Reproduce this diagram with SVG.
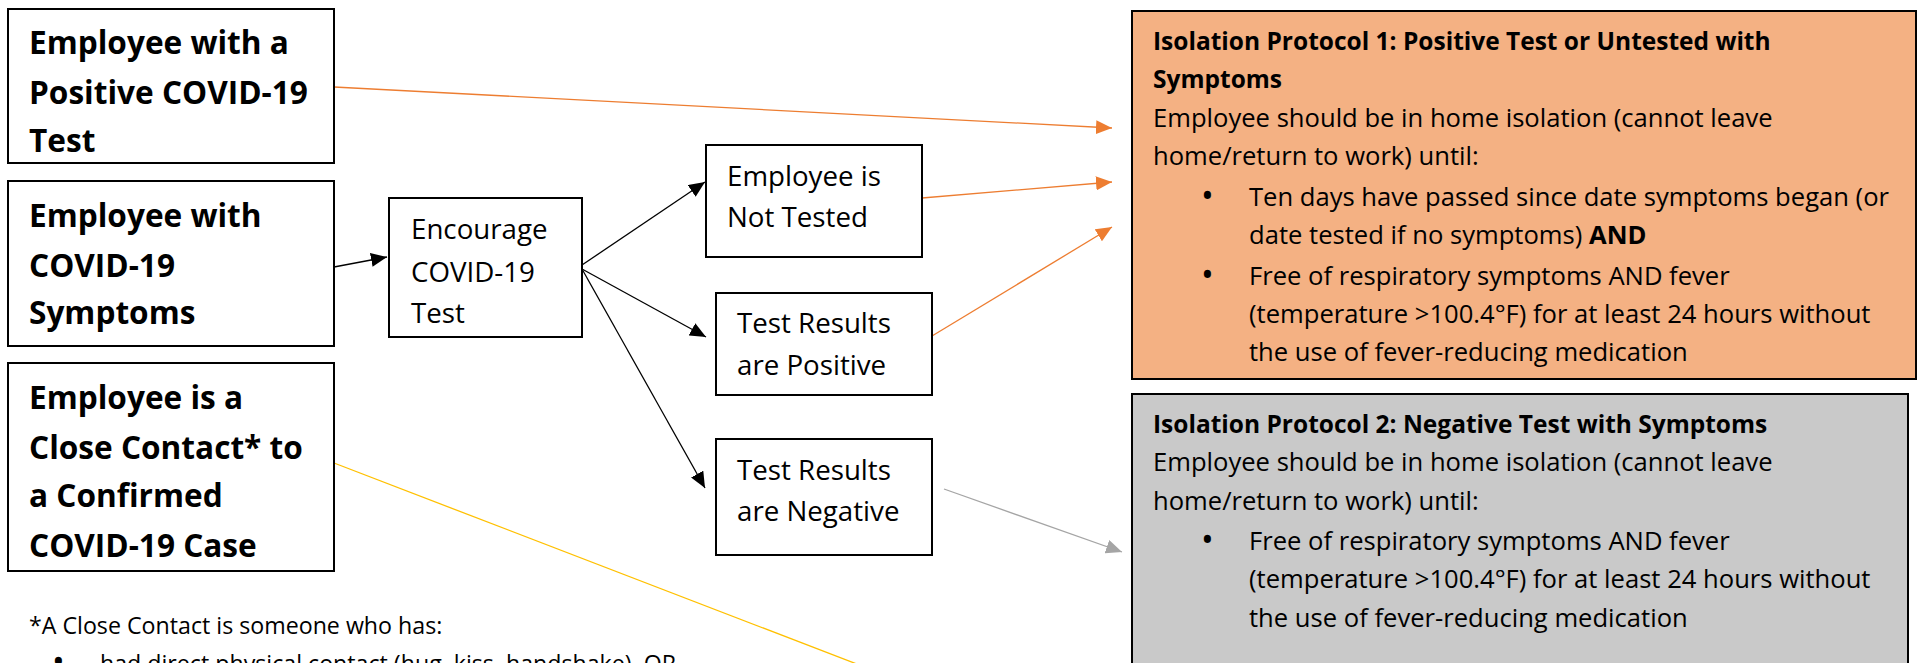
<svg xmlns="http://www.w3.org/2000/svg" width="1917" height="663" viewBox="0 0 1917 663">
<style>
text{font-family:"Open Sans","Liberation Sans",sans-serif;fill:#000}
.big{font-size:31.6px;font-weight:bold}
.mid{font-size:27.7px}
.pr{font-size:25.6px}
.prb{font-size:24.5px;font-weight:bold}
.bul{font-size:34px}
.fn{font-size:23.2px}
.box{fill:#fff;stroke:#000;stroke-width:2}
.c{fill:none;stroke-width:1.3}
</style>
<defs>
<marker id="ab" viewBox="0 0 16 14" refX="16" refY="7" markerWidth="16" markerHeight="14" markerUnits="userSpaceOnUse" orient="auto"><path d="M0,0 L16,7 L0,14 z" fill="#000"/></marker>
<marker id="ao" viewBox="0 0 16 14" refX="16" refY="7" markerWidth="16" markerHeight="14" markerUnits="userSpaceOnUse" orient="auto"><path d="M0,0 L16,7 L0,14 z" fill="#ED7D31"/></marker>
<marker id="ag" viewBox="0 0 16 14" refX="16" refY="7" markerWidth="16" markerHeight="14" markerUnits="userSpaceOnUse" orient="auto"><path d="M0,0 L16,7 L0,14 z" fill="#A5A5A5"/></marker>
</defs>
<rect width="1917" height="663" fill="#fff"/>
<g id="connectors">
<line class="c" x1="334" y1="87" x2="1112" y2="128" stroke="#ED7D31" marker-end="url(#ao)"/>
<line class="c" x1="922" y1="198" x2="1112" y2="182" stroke="#ED7D31" marker-end="url(#ao)"/>
<line class="c" x1="932" y1="336" x2="1112" y2="227" stroke="#ED7D31" marker-end="url(#ao)"/>
<line class="c" x1="944" y1="489" x2="1122" y2="552" stroke="#A5A5A5" marker-end="url(#ag)"/>
<line class="c" x1="334" y1="463" x2="862" y2="666" stroke="#FFC000"/>
<line class="c" x1="334" y1="267" x2="387" y2="257" stroke="#000" marker-end="url(#ab)"/>
<line class="c" x1="582" y1="265" x2="705" y2="182" stroke="#000" marker-end="url(#ab)"/>
<line class="c" x1="582" y1="269" x2="706" y2="337" stroke="#000" marker-end="url(#ab)"/>
<line class="c" x1="582" y1="269" x2="705" y2="488" stroke="#000" marker-end="url(#ab)"/>
</g>
<g id="n-positive">
<rect class="box" x="8" y="9" width="326" height="154"/>
<text class="big" x="29" y="54">Employee with a</text>
<text class="big" x="29" y="104">Positive COVID-19</text>
<text class="big" x="29" y="152">Test</text>
</g>
<g id="n-symptoms">
<rect class="box" x="8" y="181" width="326" height="165"/>
<text class="big" x="29" y="227">Employee with</text>
<text class="big" x="29" y="277">COVID-19</text>
<text class="big" x="29" y="324">Symptoms</text>
</g>
<g id="n-contact">
<rect class="box" x="8" y="363" width="326" height="208"/>
<text class="big" x="29" y="409">Employee is a</text>
<text class="big" x="29" y="459">Close Contact* to</text>
<text class="big" x="29" y="507">a Confirmed</text>
<text class="big" x="29" y="557">COVID-19 Case</text>
</g>
<g id="n-encourage">
<rect class="box" x="389" y="198" width="193" height="139"/>
<text class="mid" x="411" y="239">Encourage</text>
<text class="mid" x="411" y="282">COVID-19</text>
<text class="mid" x="411" y="323">Test</text>
</g>
<g id="n-nottested">
<rect class="box" x="706" y="145" width="216" height="112"/>
<text class="mid" x="727" y="186">Employee is</text>
<text class="mid" x="727" y="227">Not Tested</text>
</g>
<g id="n-pos">
<rect class="box" x="716" y="293" width="216" height="102"/>
<text class="mid" x="737" y="333">Test Results</text>
<text class="mid" x="737" y="375">are Positive</text>
</g>
<g id="n-neg">
<rect class="box" x="716" y="439" width="216" height="116"/>
<text class="mid" x="737" y="480">Test Results</text>
<text class="mid" x="737" y="521">are Negative</text>
</g>
<g id="n-protocol1">
<rect x="1132" y="11" width="784" height="368" fill="#F4B183" stroke="#000" stroke-width="2"/>
<text class="prb" x="1153" y="50">Isolation Protocol 1: Positive Test or Untested with</text>
<text class="prb" x="1153" y="88">Symptoms</text>
<text class="pr" x="1153" y="127">Employee should be in home isolation (cannot leave</text>
<text class="pr" x="1153" y="165">home/return to work) until:</text>
<text class="bul" x="1201" y="208">•</text>
<text class="pr" x="1249" y="206">Ten days have passed since date symptoms began (or</text>
<text class="pr" x="1249" y="244">date tested if no symptoms) <tspan font-weight="bold">AND</tspan></text>
<text class="bul" x="1201" y="287">•</text>
<text class="pr" x="1249" y="285">Free of respiratory symptoms AND fever</text>
<text class="pr" x="1249" y="323">(temperature &gt;100.4°F) for at least 24 hours without</text>
<text class="pr" x="1249" y="361">the use of fever-reducing medication</text>
</g>
<g id="n-protocol2">
<rect x="1132" y="394" width="776" height="270" fill="#C9C9C9" stroke="#000" stroke-width="2"/>
<text class="prb" x="1153" y="433">Isolation Protocol 2: Negative Test with Symptoms</text>
<text class="pr" x="1153" y="471">Employee should be in home isolation (cannot leave</text>
<text class="pr" x="1153" y="510">home/return to work) until:</text>
<text class="bul" x="1201" y="552">•</text>
<text class="pr" x="1249" y="550">Free of respiratory symptoms AND fever</text>
<text class="pr" x="1249" y="588">(temperature &gt;100.4°F) for at least 24 hours without</text>
<text class="pr" x="1249" y="627">the use of fever-reducing medication</text>
</g>
<g id="footnote">
<text class="fn" x="29" y="634">*A Close Contact is someone who has:</text>
<text class="bul" x="52" y="674">•</text>
<text class="fn" x="100" y="672">had direct physical contact (hug, kiss, handshake), OR</text>
</g>
</svg>
